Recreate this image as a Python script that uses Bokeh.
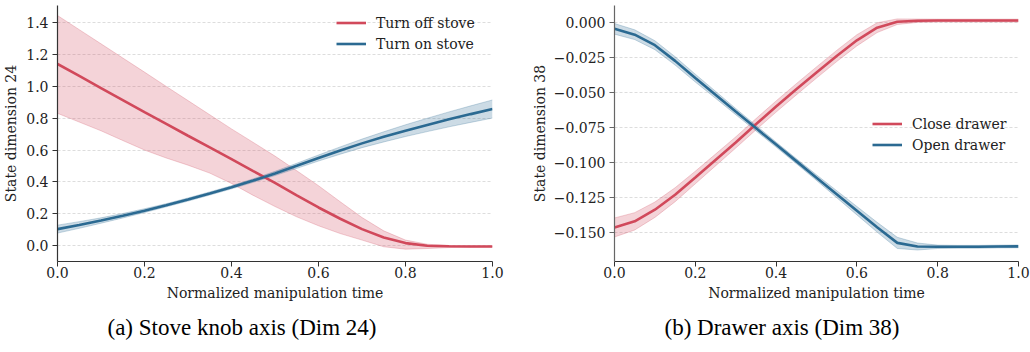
from bokeh.plotting import figure
from bokeh.layouts import row
from bokeh.models import FixedTicker, Legend, LegendItem, Title
from bokeh.embed import file_html
from bokeh.resources import INLINE

# ---------------- data ----------------
t = [0.0, 0.05, 0.1, 0.15, 0.2, 0.25, 0.3, 0.35, 0.4, 0.45, 0.5,
     0.55, 0.6, 0.65, 0.7, 0.75, 0.8, 0.85, 0.9, 0.95, 1.0]

# (a) Stove knob axis (Dim 24)
stove_off_mean = [1.141, 1.066, 0.99, 0.914, 0.838, 0.764, 0.69, 0.617, 0.543, 0.468, 0.394,
                  0.315, 0.239, 0.168, 0.103, 0.05, 0.015, -0.002, -0.005, -0.006, -0.006]
stove_off_hi = [1.446, 1.357, 1.268, 1.179, 1.09, 1.0, 0.911, 0.822, 0.733, 0.648, 0.562,
                0.47, 0.376, 0.275, 0.176, 0.092, 0.034, 0.008, -0.001, -0.003, -0.003]
stove_off_lo = [0.831, 0.776, 0.721, 0.66, 0.6, 0.55, 0.505, 0.455, 0.39, 0.315, 0.245,
                0.18, 0.124, 0.075, 0.034, -0.008, -0.023, -0.019, -0.013, -0.01, -0.009]
stove_on_mean = [0.103, 0.129, 0.157, 0.187, 0.219, 0.253, 0.289, 0.327, 0.366, 0.408, 0.453,
                 0.501, 0.55, 0.597, 0.642, 0.683, 0.722, 0.758, 0.793, 0.826, 0.858]
stove_on_lo = [0.078, 0.108, 0.14, 0.173, 0.207, 0.243, 0.279, 0.317, 0.356, 0.397, 0.44,
               0.485, 0.531, 0.574, 0.615, 0.651, 0.685, 0.716, 0.746, 0.774, 0.801]
stove_on_hi = [0.128, 0.15, 0.174, 0.201, 0.231, 0.263, 0.299, 0.337, 0.376, 0.419, 0.466,
               0.517, 0.569, 0.62, 0.669, 0.715, 0.759, 0.8, 0.84, 0.878, 0.915]

# (b) Drawer axis (Dim 38)
close_mean = [-0.1462, -0.1418, -0.1335, -0.1228, -0.1105, -0.098, -0.0855, -0.0725, -0.0598, -0.0475, -0.0355,
              -0.0237, -0.0125, -0.0035, 0.0008, 0.0015, 0.0016, 0.0016, 0.0016, 0.0016, 0.0016]
close_lo = [-0.153, -0.148, -0.139, -0.1278, -0.115, -0.1022, -0.0895, -0.0765, -0.0638, -0.0515, -0.0395,
            -0.0277, -0.0165, -0.007, -0.0012, 0.0003, 0.0006, 0.0006, 0.0006, 0.0006, 0.0006]
close_hi = [-0.1394, -0.1356, -0.128, -0.1178, -0.106, -0.0938, -0.0815, -0.0685, -0.0558, -0.0435, -0.0315,
            -0.0197, -0.0085, 0.0, 0.0028, 0.0027, 0.0026, 0.0026, 0.0026, 0.0026, 0.0026]
open_mean = [-0.0043, -0.0085, -0.016, -0.0272, -0.0395, -0.0514, -0.0634, -0.0752, -0.087, -0.0988, -0.1106,
             -0.1224, -0.1342, -0.146, -0.1572, -0.1598, -0.16, -0.16, -0.16, -0.1598, -0.1597]
open_lo = [-0.0081, -0.012, -0.0192, -0.0302, -0.0423, -0.0539, -0.0656, -0.0772, -0.0888, -0.1006, -0.1126,
           -0.1249, -0.1372, -0.1495, -0.1612, -0.1623, -0.1612, -0.161, -0.161, -0.1608, -0.1607]
open_hi = [-0.0005, -0.005, -0.0128, -0.0242, -0.0367, -0.0489, -0.0612, -0.0732, -0.0852, -0.097, -0.1086,
           -0.1199, -0.1312, -0.1425, -0.1532, -0.1573, -0.1588, -0.159, -0.159, -0.1588, -0.1587]

x_ticks = [0.0, 0.2, 0.4, 0.6, 0.8, 1.0]
x_tick_labels = ["0.0", "0.2", "0.4", "0.6", "0.8", "1.0"]
ya_ticks = [0.0, 0.2, 0.4, 0.6, 0.8, 1.0, 1.2, 1.4]
ya_tick_labels = ["0.0", "0.2", "0.4", "0.6", "0.8", "1.0", "1.2", "1.4"]
yb_ticks = [0.0, -0.025, -0.05, -0.075, -0.1, -0.125, -0.15]
yb_tick_labels = ["0.000", "\u22120.025", "\u22120.050", "\u22120.075", "\u22120.100", "\u22120.125", "\u22120.150"]

RED = "#d1495b"
BLUE = "#2b6a92"
SERIF = "'DejaVu Serif', serif"
CAP_FONT = "'Liberation Serif', 'Times New Roman', serif"

FRAME_H = 256
TOP = 5
BOTTOM = 91


def make_fig(frame_w, b_left, b_right, y_range, y_ticks, y_labels, y_label,
             spine_left, ylab_standoff):
    p = figure(title=None, frame_width=frame_w, frame_height=FRAME_H,
               min_border_left=b_left, min_border_right=b_right,
               min_border_top=TOP, min_border_bottom=BOTTOM,
               x_range=(0.0, 1.0), y_range=y_range,
               output_backend="svg", toolbar_location=None)
    p.outline_line_color = None
    p.background_fill_color = "white"
    p.border_fill_color = "white"
    p.xgrid.visible = False
    p.ygrid.grid_line_color = "#d4d4d4"
    p.ygrid.grid_line_dash = "3 2"
    p.ygrid.grid_line_width = 0.8

    xa = p.xaxis[0]
    xa.ticker = FixedTicker(ticks=x_ticks)
    xa.major_label_overrides = dict(zip(x_ticks, x_tick_labels))
    xa.axis_label = "Normalized manipulation time"
    ya = p.yaxis[0]
    ya.ticker = FixedTicker(ticks=y_ticks)
    ya.major_label_overrides = dict(zip(y_ticks, y_labels))
    ya.axis_label = y_label
    for ax in (xa, ya):
        ax.minor_tick_line_color = None
        ax.major_tick_in = 0
        ax.major_tick_out = 5
        ax.major_tick_line_color = "#333333"
        ax.axis_line_color = "#333333"
        ax.axis_line_width = 1.2
        ax.major_label_text_font = SERIF
        ax.major_label_text_font_size = "14px"
        ax.major_label_text_color = "#222222"
        ax.axis_label_text_font = SERIF
        ax.axis_label_text_font_size = "14px"
        ax.axis_label_text_font_style = "normal"
        ax.axis_label_text_color = "#222222"
    xa.major_label_standoff = 0
    xa.axis_label_standoff = 4
    ya.major_label_standoff = 4
    ya.axis_label_standoff = ylab_standoff
    ya.axis_line_color = spine_left
    ya.major_tick_line_color = spine_left
    return p


def draw(p, m1, lo1, hi1, m2, lo2, hi2):
    p.varea(x=t, y1=lo1, y2=hi1, fill_color=RED, fill_alpha=0.24)
    p.line(t, lo1, line_color=RED, line_alpha=0.25, line_width=1)
    p.line(t, hi1, line_color=RED, line_alpha=0.25, line_width=1)
    p.varea(x=t, y1=lo2, y2=hi2, fill_color=BLUE, fill_alpha=0.24)
    p.line(t, lo2, line_color=BLUE, line_alpha=0.25, line_width=1)
    p.line(t, hi2, line_color=BLUE, line_alpha=0.25, line_width=1)
    r1 = p.line(t, m1, line_color=RED, line_width=2.6)
    r2 = p.line(t, m2, line_color=BLUE, line_width=2.6)
    return r1, r2


def add_legend(p, items, loc):
    lg = Legend(items=items, location=loc, border_line_alpha=0, background_fill_alpha=0,
                padding=0, margin=0, glyph_width=30, glyph_height=17, label_height=17,
                spacing=4, label_standoff=10, label_text_font=SERIF,
                label_text_font_size="14px", label_text_color="#222222")
    p.add_layout(lg)


def caption(p, text):
    p.add_layout(Title(text=text, align="left", offset=50, standoff=19,
                       text_font=CAP_FONT, text_font_size="23px",
                       text_font_style="normal", text_color="black"), "below")


# left panel: frame x 56..491, y 5..261
p1 = make_fig(435, 56, 32, (-0.1006, 1.5088), ya_ticks, ya_tick_labels,
              "State dimension 24", "#333333", 4)
ra, rb = draw(p1, stove_off_mean, stove_off_lo, stove_off_hi,
              stove_on_mean, stove_on_lo, stove_on_hi)
add_legend(p1, [LegendItem(label="Turn off stove", renderers=[ra]),
                LegendItem(label="Turn on stove", renderers=[rb])], (279, 209))
caption(p1, "(a) Stove knob axis (Dim 24)")

# right panel: frame x 613..1017, y 5..261
p2 = make_fig(404, 90, 13, (-0.1705, 0.01236), yb_ticks, yb_tick_labels,
              "State dimension 38", "#666666", 3)
rc, ro = draw(p2, close_mean, close_lo, close_hi, open_mean, open_lo, open_hi)
add_legend(p2, [LegendItem(label="Close drawer", renderers=[rc]),
                LegendItem(label="Open drawer", renderers=[ro])], (258, 108))
caption(p2, "(b) Drawer axis (Dim 38)")

layout = row(p1, p2)
open("out.html", "w").write(file_html(layout, INLINE))
